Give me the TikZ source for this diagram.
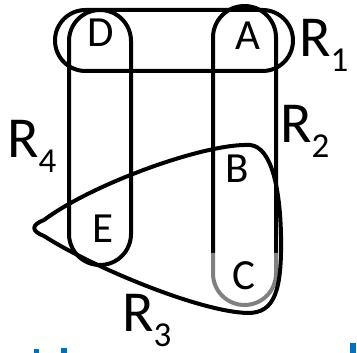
\documentclass[tikz,border=0pt]{standalone}
\usepackage{fontspec}
\setmainfont{Carlito}
\definecolor{txtblue}{RGB}{0,112,192}
\definecolor{fadegray}{RGB}{128,128,128}
\newcommand{\subfnt}{\fontsize{35}{35}\selectfont}
\begin{document}
\begin{tikzpicture}[x=1pt,y=-1pt,
  region/.style={draw=black,line width=4pt,line join=round},
  lab/.style={font=\fontsize{43}{43}\selectfont,inner sep=0pt,anchor=base},
  rlab/.style={font=\fontsize{58}{58}\selectfont,inner sep=0pt,anchor=base west}]
\useasboundingbox (0,0) rectangle (357,353);
% R1 stadium
\draw[region,rounded corners=30.5pt] (55,10) rectangle (293,71);
% R4 column
\draw[region,rounded corners=31pt] (69,10) rectangle (131,265);
% R2 column (lower part faded)
\draw[region] (213,253) -- (213,37.5) arc[start angle=180,end angle=0,radius=31.5pt] -- (276,253);
\draw[region,draw=fadegray] (213,253) -- (213,273.5) arc[start angle=180,end angle=360,radius=31.5pt] -- (276,253);
% R3 teardrop
\draw[region] (44,220) .. controls (92,184) and (205,143) .. (250,145)
  .. controls (272,147) and (280,190) .. (281,235)
  .. controls (282,290) and (275,313) .. (248,313)
  .. controls (200,312) and (92,267) .. (44,236)
  .. controls (31,231) and (31,225) .. (44,220) -- cycle;
% element labels
\node[lab] (D) at (101,47) {D};
\node[lab] (A) at (248,50) {A};
\node[lab] (B) at (237,183) {B};
\node[lab] (E) at (103,243) {E};
\node[lab] (C) at (244,290) {C};
% region labels
\node[rlab] (R1) at (299,57) {R\raisebox{-15pt}{\subfnt 1}};
\node[rlab] (R2) at (280,143) {R\raisebox{-15pt}{\subfnt 2}};
\node[rlab] (R4) at (7,158) {R\raisebox{-15pt}{\subfnt 4}};
\node[rlab] (R3) at (122,332) {R\smash{\raisebox{-14pt}{\subfnt 3}}};
% cut-off blue text fragments at bottom edge
\fill[txtblue] (34,349) rectangle (39,353);
\fill[txtblue] (61,348) rectangle (67,353);
\fill[txtblue] (350,343) rectangle (356,353);
\end{tikzpicture}
\end{document}
